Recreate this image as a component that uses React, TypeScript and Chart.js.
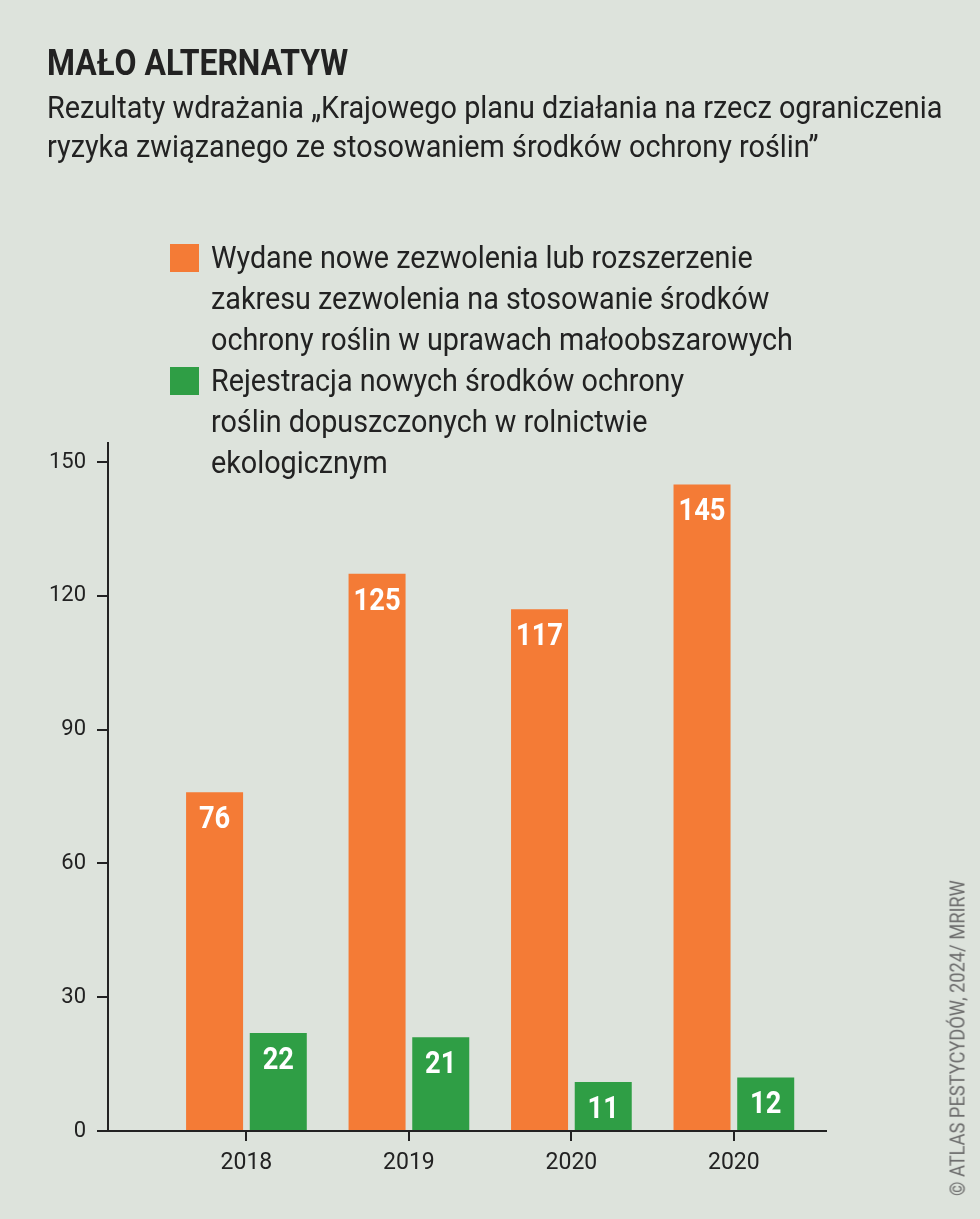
import React, { useEffect, useRef } from "react";
import { Chart, registerables } from "chart.js";

Chart.register(...registerables);

// ---------- data ----------
const categories = ["2018", "2019", "2020", "2020"];
const permitValues = [76, 125, 117, 145];
const registrationValues = [22, 21, 11, 12];
const yTickValues = [0, 30, 60, 90, 120, 150];

const permitLabelLines = [
  "Wydane nowe zezwolenia lub rozszerzenie",
  "zakresu zezwolenia na stosowanie środków",
  "ochrony roślin w uprawach małoobszarowych",
];
const registrationLabelLines = [
  "Rejestracja nowych środków ochrony",
  "roślin dopuszczonych w rolnictwie",
  "ekologicznym",
];

const titleText = "MAŁO ALTERNATYW";
const subtitleLines = [
  "Rezultaty wdrażania „Krajowego planu działania na rzecz ograniczenia",
  "ryzyka związanego ze stosowaniem środków ochrony roślin”",
];
const creditText = "© ATLAS PESTYCYDÓW, 2024/ MRIRW";

// ---------- style ----------
const W = 980;
const H = 1219;
const FONT = "Roboto, 'Noto Sans', sans-serif";
const ORANGE = "#f47b36";
const GREEN = "#2f9e45";
const INK = "#222222";
const BG = "#dde3dc";

const valueLabelPlugin = {
  id: "valueLabels",
  afterDatasetsDraw(chart: any) {
    const ctx = chart.ctx;
    chart.data.datasets.forEach((ds: any, di: number) => {
      const meta = chart.getDatasetMeta(di);
      meta.data.forEach((el: any, i: number) => {
        const v = ds.data[i].y;
        ctx.save();
        ctx.font = `bold 31px ${FONT}`;
        ctx.fillStyle = "#ffffff";
        ctx.textAlign = "center";
        ctx.textBaseline = "alphabetic";
        ctx.translate(el.x, el.y + 36);
        ctx.scale(0.88, 1);
        ctx.fillText(String(v), 0, 0);
        ctx.restore();
      });
    });
  },
};

function TextLine(props: { text: string; left: number; baseline: number; size: number; bold?: boolean; scale: number }) {
  const { text, left, baseline, size, bold, scale } = props;
  return (
    <div
      style={{
        position: "absolute",
        left,
        top: baseline - 0.842 * size,
        fontFamily: FONT,
        fontSize: size,
        lineHeight: `${size}px`,
        fontWeight: bold ? 700 : 400,
        color: INK,
        whiteSpace: "nowrap",
        transform: `scaleX(${scale})`,
        transformOrigin: "0 0",
      }}
    >
      {text}
    </div>
  );
}

export default function App() {
  const canvasRef = useRef<HTMLCanvasElement | null>(null);

  useEffect(() => {
    document.body.style.margin = "0";
    document.body.style.background = BG;
    const canvas = canvasRef.current;
    if (!canvas) return;
    const chart = new Chart(canvas, {
      type: "bar",
      data: {
        datasets: [
          {
            label: permitLabelLines.join(" "),
            data: permitValues.map((v, i) => ({ x: i, y: v })),
            backgroundColor: ORANGE,
            categoryPercentage: 0.784,
            barPercentage: 0.895,
          },
          {
            label: registrationLabelLines.join(" "),
            data: registrationValues.map((v, i) => ({ x: i, y: v })),
            backgroundColor: GREEN,
            categoryPercentage: 0.784,
            barPercentage: 0.895,
          },
        ],
      },
      options: {
        animation: false,
        responsive: false,
        maintainAspectRatio: false,
        devicePixelRatio: 1,
        layout: { padding: { top: 443, left: 0, right: 154, bottom: 0 } },
        plugins: {
          legend: { display: false },
          tooltip: { enabled: false },
        },
        scales: {
          x: {
            type: "linear",
            min: -0.852,
            max: 3.567,
            offset: false,
            afterBuildTicks: (s: any) => {
              s.ticks = categories.map((_, i) => ({ value: i }));
            },
            afterFit: (s: any) => {
              s.height = 88;
            },
            grid: {
              display: true,
              offset: false,
              drawOnChartArea: false,
              drawTicks: true,
              tickLength: 10,
              color: INK,
              lineWidth: 2,
            },
            border: { display: true, color: INK, width: 2 },
            ticks: {
              autoSkip: false,
              maxRotation: 0,
              padding: 8,
              color: INK,
              font: { family: FONT, size: 23 },
              callback: (v: any) => categories[v as number] ?? "",
            },
          },
          y: {
            min: 0,
            max: 154.3,
            afterBuildTicks: (s: any) => {
              s.ticks = yTickValues.map((v) => ({ value: v }));
            },
            afterFit: (s: any) => {
              s.width = 108;
            },
            grid: {
              display: true,
              drawOnChartArea: false,
              drawTicks: true,
              tickLength: 11,
              color: INK,
              lineWidth: 2,
            },
            border: { display: true, color: INK, width: 2 },
            ticks: {
              autoSkip: false,
              padding: 11,
              color: INK,
              font: { family: FONT, size: 22 },
            },
          },
        },
      },
      plugins: [valueLabelPlugin],
    } as any);
    return () => chart.destroy();
  }, []);

  const legendItems = [
    { color: ORANGE, lines: permitLabelLines },
    { color: GREEN, lines: registrationLabelLines },
  ];

  return (
    <div style={{ position: "absolute", left: 0, top: 0, width: W, height: H, background: BG, overflow: "hidden" }}>
      <canvas ref={canvasRef} width={W} height={H} style={{ position: "absolute", left: 0, top: 0, width: W, height: H }} />
      <TextLine text={titleText} left={47} baseline={76} size={36.5} bold scale={0.875} />
      {subtitleLines.map((t, i) => (
        <TextLine key={i} text={t} left={47} baseline={118 + i * 39} size={31} scale={0.93} />
      ))}
      {legendItems.map((item, k) => (
        <React.Fragment key={k}>
          <div
            style={{
              position: "absolute",
              left: 170,
              top: 244 + k * 123,
              width: 29,
              height: 28,
              background: item.color,
            }}
          />
          {item.lines.map((t, i) => (
            <TextLine key={i} text={t} left={211} baseline={268.3 + (k * 3 + i) * 41} size={30.5} scale={0.942} />
          ))}
        </React.Fragment>
      ))}
      <div
        style={{
          position: "absolute",
          left: 958,
          top: 1038,
          transform: "translate(-50%, -50%) rotate(-90deg) scaleX(0.87)",
          fontFamily: FONT,
          fontSize: 21,
          color: "#6b6b6b",
          whiteSpace: "nowrap",
          lineHeight: "21px",
        }}
      >
        {creditText}
      </div>
    </div>
  );
}
